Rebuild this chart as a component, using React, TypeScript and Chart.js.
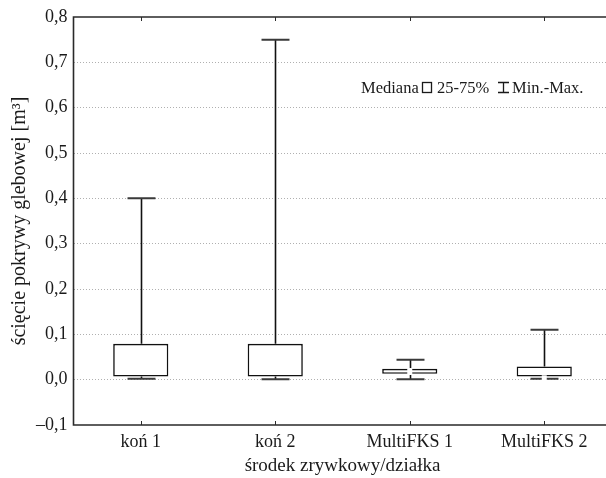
import { useEffect, useRef } from 'react';
import { Chart, registerables } from 'chart.js';

Chart.register(...registerables);

const categories = ['koń 1', 'koń 2', 'MultiFKS 1', 'MultiFKS 2'];
const minValues = [0.002, 0.001, 0.001, 0.002];
const q1Values = [0.007, 0.007, 0.013, 0.007];
const medianValues = [0.02, 0.02, 0.018, 0.002];
const q3Values = [0.079, 0.079, 0.024, 0.029];
const maxValues = [0.4, 0.75, 0.044, 0.11];
const yMin = -0.1;
const yMax = 0.8;
const yStep = 0.1;
const legendLabels = ['Mediana', '25-75%', 'Min.-Max.'];
const xTitle = 'środek zrywkowy/działka';
const yTitle = 'ścięcie pokrywy glebowej [m³]';

const FONT = "'Liberation Serif', 'DejaVu Serif', serif";

const whiskerPlugin = {
  id: 'whiskers',
  beforeDatasetsDraw(chart: any) {
    const { ctx, scales } = chart;
    const x = scales.x;
    const y = scales.y;
    const band = x.getPixelForValue(1) - x.getPixelForValue(0);
    const capHalf = band * 0.104;
    ctx.save();
    categories.forEach((_, i) => {
      const px = Math.round(x.getPixelForValue(i)) + 0.5;
      const yq3 = y.getPixelForValue(q3Values[i]);
      const yq1 = y.getPixelForValue(q1Values[i]);
      const yhi = y.getPixelForValue(maxValues[i]);
      const ylo = y.getPixelForValue(minValues[i]);
      ctx.strokeStyle = '#111';
      ctx.lineWidth = 1.6;
      ctx.beginPath();
      ctx.moveTo(px, yq3);
      ctx.lineTo(px, yhi);
      ctx.moveTo(px, yq1);
      ctx.lineTo(px, ylo);
      ctx.stroke();
      ctx.strokeStyle = '#3a3a3a';
      ctx.lineWidth = 2;
      ctx.beginPath();
      ctx.moveTo(px - capHalf, yhi);
      ctx.lineTo(px + capHalf, yhi);
      ctx.moveTo(px - capHalf, ylo);
      ctx.lineTo(px + capHalf, ylo);
      ctx.stroke();
    });
    ctx.restore();
  },
  afterDatasetsDraw(chart: any) {
    const { ctx, scales } = chart;
    const x = scales.x;
    const y = scales.y;
    ctx.save();
    ctx.fillStyle = '#ffffff';
    categories.forEach((_, i) => {
      const px = x.getPixelForValue(i);
      const pm = y.getPixelForValue(medianValues[i]);
      ctx.fillRect(px - 2.5, pm - 3.5, 5, 7);
    });
    ctx.restore();
  },
};

const framePlugin = {
  id: 'frame',
  afterDraw(chart: any) {
    const { ctx, chartArea, scales } = chart;
    const { left, right, top, bottom } = chartArea;
    ctx.save();
    ctx.strokeStyle = '#2a2a2a';
    ctx.lineWidth = 1.6;
    ctx.beginPath();
    ctx.moveTo(right, top);
    ctx.lineTo(left, top);
    ctx.lineTo(left, bottom);
    ctx.lineTo(right, bottom);
    ctx.stroke();
    ctx.lineWidth = 1;
    ctx.beginPath();
    scales.x.ticks.forEach((_: any, i: number) => {
      const px = Math.round(scales.x.getPixelForTick(i)) + 0.5;
      ctx.moveTo(px, bottom);
      ctx.lineTo(px, bottom - 4);
      ctx.moveTo(px, top);
      ctx.lineTo(px, top + 4);
    });
    ctx.stroke();
    ctx.restore();
  },
};

const legendPlugin = {
  id: 'boxLegend',
  afterDraw(chart: any) {
    const { ctx } = chart;
    ctx.save();
    ctx.font = `16.5px ${FONT}`;
    ctx.fillStyle = '#1a1a1a';
    ctx.textBaseline = 'alphabetic';
    ctx.textAlign = 'left';
    const base = 92.5;
    ctx.fillText(legendLabels[0], 361, base);
    ctx.strokeStyle = '#1a1a1a';
    ctx.lineWidth = 1.3;
    ctx.strokeRect(422.5, 82.5, 9, 10);
    ctx.fillText(legendLabels[1], 437, base);
    ctx.beginPath();
    ctx.moveTo(498, 82.5);
    ctx.lineTo(509, 82.5);
    ctx.moveTo(503.5, 82.5);
    ctx.lineTo(503.5, 92.5);
    ctx.moveTo(498, 92.5);
    ctx.lineTo(509, 92.5);
    ctx.stroke();
    ctx.fillText(legendLabels[2], 512, base);
    ctx.restore();
  },
};

export default function App() {
  const canvasRef = useRef<HTMLCanvasElement | null>(null);

  useEffect(() => {
    if (!canvasRef.current) return;
    Chart.defaults.font.family = FONT;
    Chart.defaults.color = '#1a1a1a';
    const chart = new Chart(canvasRef.current, {
      type: 'bar',
      data: {
        labels: categories,
        datasets: [
          {
            type: 'bar',
            label: '25-75%',
            data: categories.map((_, i) => [q1Values[i], q3Values[i]]) as any,
            backgroundColor: '#ffffff',
            borderColor: '#111',
            borderWidth: 1.6,
            borderSkipped: false,
            barPercentage: 0.41,
            categoryPercentage: 1,
          },
        ],
      },
      options: {
        responsive: false,
        animation: false,
        layout: { padding: { top: 17, right: 8.5, left: 0, bottom: 0 } },
        plugins: {
          legend: { display: false },
          tooltip: { enabled: false },
        },
        scales: {
          x: {
            grid: { display: false },
            border: { display: false },
            ticks: { font: { size: 18, family: FONT }, color: '#1a1a1a', padding: -2, maxRotation: 0 },
            title: {
              display: true,
              text: xTitle,
              font: { size: 19, family: FONT },
              color: '#1a1a1a',
              padding: { top: 0, bottom: 1 },
            },
            afterFit(scale: any) {
              scale.height = 53;
            },
          },
          y: {
            min: yMin,
            max: yMax,
            border: { display: false },
            grid: {
              drawTicks: false,
              color: (c: any) =>
                c.tick && (Math.abs(c.tick.value - yMin) < 1e-6 || Math.abs(c.tick.value - yMax) < 1e-6)
                  ? 'rgba(0,0,0,0)'
                  : '#b0b0b0',
              lineWidth: 1,
            } as any,
            ticks: {
              stepSize: yStep,
              padding: 6,
              font: { size: 18, family: FONT },
              color: '#1a1a1a',
              callback: (v: any) => {
                const n = Number(v);
                const s = Math.abs(n).toFixed(1).replace('.', ',');
                return n < -1e-9 ? '\u2013' + s : s;
              },
            },
            title: {
              display: true,
              text: yTitle,
              font: { size: 20, family: FONT },
              color: '#1a1a1a',
              padding: { top: 8, bottom: 0 },
            },
            afterFit(scale: any) {
              scale.width = 73.5;
            },
          },
        },
      },
      plugins: [whiskerPlugin, framePlugin, legendPlugin],
    });
    (chart.options.scales as any).y.border = { display: false, dash: [1, 2] };
    (chart.options.scales as any).y.grid.borderDash = [1, 2];
    chart.update('none');
    return () => chart.destroy();
  }, []);

  return (
    <div style={{ position: 'absolute', left: 0, top: 0, width: 606, height: 478, overflow: 'hidden', background: '#fff' }}>
      <canvas ref={canvasRef} width={620} height={478} style={{ display: 'block' }} />
    </div>
  );
}
